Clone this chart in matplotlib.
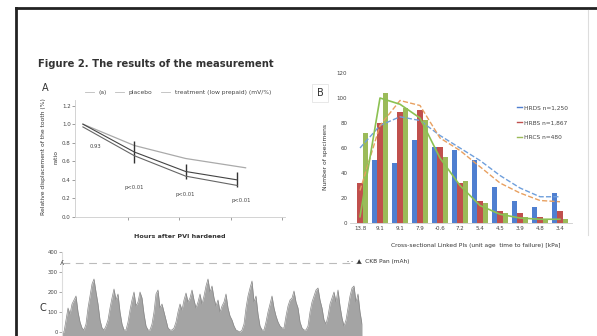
import numpy as np
import matplotlib
matplotlib.use('Agg')
import matplotlib.pyplot as plt
from matplotlib.lines import Line2D

# panel A - ratio vs hours
hours = [0, 24, 48, 72]
hours_top = [0, 24, 48, 76]
ratio_top = [1.0, 0.77, 0.63, 0.53]
ratio_mid = [1.0, 0.70, 0.49, 0.40]
ratio_low = [0.97, 0.66, 0.44, 0.34]
ratio_err = [0.0, 0.12, 0.08, 0.08]
p_labels = ['p<0.01', 'p<0.01', 'p<0.01']
p_hours = [24, 48, 74]
p_y = [0.32, 0.24, 0.18]
a_legend = ['(a)', 'placebo', 'treatment (low prepaid) (mV/%)']

# panel B - grouped bars
b_cats = ['13.8', '9.1', '9.1', '7.9', '-0.6', '7.2', '5.4', '4.5', '3.9', '4.8', '3.4']
hrds = [0, 50, 48, 66, 61, 58, 50, 29, 18, 13, 24]
hrbs = [32, 80, 89, 90, 61, 32, 18, 10, 8, 5, 10]
hrcs = [72, 104, 92, 82, 53, 34, 16, 8, 5, 3, 3]
trend_hrds = [60, 78, 85, 82, 70, 60, 50, 38, 28, 21, 21]
trend_hrbs = [26, 78, 98, 94, 68, 58, 45, 32, 24, 18, 17]
trend_hrcs = [5, 100, 95, 84, 52, 30, 14, 7, 4, 3, 3]
b_series = ['HRDS n=1,250', 'HRBS n=1,867', 'HRCS n=480']

# panel C - signal trace
signal = [0, 0, 60, 120, 90, 140, 160, 180, 100, 50,
          20, 10, 40, 120, 180, 240, 265, 200, 140, 60,
          20, 10, 30, 60, 120, 170, 215, 160, 190, 100,
          40, 10, 10, 50, 110, 160, 200, 130, 150, 200,
          170, 90, 30, 10, 10, 40, 100, 190, 210, 120,
          140, 100, 60, 20, 10, 10, 20, 50, 100, 140,
          110, 160, 195, 150, 170, 210, 160, 120, 150, 190,
          140, 180, 230, 265, 200, 230, 170, 130, 160, 100,
          130, 150, 190, 120, 80, 60, 30, 10, 5, 0,
          10, 40, 120, 180, 220, 255, 150, 180, 90, 30,
          10, 10, 50, 100, 140, 180, 120, 80, 50, 30,
          20, 20, 80, 130, 160, 170, 205, 150, 120, 50,
          20, 10, 10, 30, 100, 150, 180, 210, 220, 160,
          120, 60, 40, 80, 140, 170, 200, 150, 210, 130,
          70, 30, 60, 120, 180, 220, 230, 150, 190, 100, 40]

W, H = 597, 336


def px(x, y):
    return x / W, 1 - y / H


def box(l, t, r, b):
    return [l / W, 1 - b / H, (r - l) / W, (b - t) / H]


plt.rcParams['font.family'] = 'DejaVu Sans'
fig = plt.figure(figsize=(W / 100, H / 100), dpi=100)
fig.patch.set_facecolor('white')

# frame of the slide
fig.add_artist(Line2D([16 / W, 16 / W], [0, 1 - 8 / H], color='#222222', lw=2.0))
fig.add_artist(Line2D([16 / W, 1], [1 - 8 / H, 1 - 8 / H], color='#222222', lw=2.0))
fig.add_artist(Line2D([588 / W, 588 / W], [1 - 10 / H, 0.3], color='#dddddd', lw=0.8))

txt = '#444444'
fig.text(*px(38, 67), 'Figure 2. The results of the measurement', fontsize=7.2,
         color='#333333', va='baseline', fontweight='semibold')

# ---- panel A ----
axA = fig.add_axes(box(75, 100, 285, 217))
axA.plot(hours_top, ratio_top, color='#aaaaaa', lw=0.9)
axA.errorbar(hours, ratio_mid, yerr=ratio_err, color='#444444', lw=0.8,
             ecolor='#333333', elinewidth=1.0, capsize=0)
axA.plot(hours, ratio_low, color='#666666', lw=0.8)
for h, y, s in zip(p_hours, p_y, p_labels):
    axA.text(h, y, s, fontsize=3.8, color=txt, ha='center', va='center')
axA.text(3, 0.76, '0.93', fontsize=3.8, color=txt, va='center')
axA.set_xlim(-3.7, 94.4)
axA.set_ylim(0, 1.26)
axA.set_xticks([21, 45, 69, 93])
axA.set_xticklabels([])
axA.set_yticks(np.arange(0, 1.3, 0.2))
axA.set_yticklabels(['%.1f' % v for v in np.arange(0, 1.3, 0.2)])
axA.tick_params(labelsize=4, colors='#777777', length=2, width=0.5, labelcolor=txt, pad=1)
for s in ['top', 'right']:
    axA.spines[s].set_visible(False)
for s in ['left', 'bottom']:
    axA.spines[s].set_color('#cccccc')
    axA.spines[s].set_linewidth(0.6)
axA.legend([Line2D([], [], color='#bbbbbb', lw=0.6)] * 3, a_legend, ncol=3,
           loc='lower left', bbox_to_anchor=(0.02, 1.0), fontsize=4.3, frameon=False,
           handlelength=1.5, columnspacing=1.4, labelcolor=txt)
fig.text(*px(180, 237), 'Hours after PVI hardened', fontsize=4.6, color='#333333',
         ha='center', va='center', fontweight='semibold')
fig.text(*px(45, 88), 'A', fontsize=7, color='#333333', ha='center', va='center')
fig.text(*px(44, 157), 'Relative displacement of the tooth (%)', fontsize=4.3,
         color='#333333', rotation=90, ha='center', va='center')
fig.text(*px(56, 157), 'ratio', fontsize=4.3, color='#333333', rotation=90,
         ha='center', va='center')

# ---- panel B ----
axB = fig.add_axes(box(350, 73, 572, 223))
xb = np.arange(len(b_cats))
bw = 0.26
axB.bar(xb - bw, hrds, bw, color='#4F7FD0')
axB.bar(xb, hrbs, bw, color='#C0504D')
axB.bar(xb + bw, hrcs, bw, color='#9BBB59')
axB.plot(xb, trend_hrds, color='#6F9FDC', lw=1.0, ls='--')
axB.plot(xb, trend_hrbs, color='#E8A060', lw=1.0, ls='--')
axB.plot(xb, trend_hrcs, color='#8CC152', lw=1.2)
axB.set_xlim(-0.5, 10.6)
axB.set_ylim(0, 120)
axB.set_xticks(xb)
axB.set_xticklabels(b_cats)
axB.set_yticks(np.arange(0, 121, 20))
axB.tick_params(labelsize=4, colors='#777777', length=0, labelcolor=txt, pad=2)
for s in ['top', 'right', 'left']:
    axB.spines[s].set_visible(False)
axB.spines['bottom'].set_color('#cccccc')
axB.spines['bottom'].set_linewidth(0.6)
hl = [Line2D([], [], color=c, lw=1.0) for c in ['#4F7FD0', '#C0504D', '#9BBB59']]
axB.legend(hl, b_series, loc='upper left', bbox_to_anchor=(0.73, 0.82), fontsize=4.2,
           frameon=False, handlelength=0.8, handletextpad=0.3, labelspacing=1.7,
           labelcolor=txt)
fig.text(*px(476, 245), 'Cross-sectional Linked PIs (unit age  time to failure) [kPa]',
         fontsize=4.2, color='#333333', ha='center', va='center')
fig.text(*px(347, 262), '- -  \u25b2  CKB Pan (mAh)', fontsize=4.2, color='#333333',
         va='center')
fig.text(*px(320, 93), 'B', fontsize=7, color='#333333', ha='center', va='center',
         bbox=dict(facecolor='white', edgecolor='#e4e4e4', lw=0.6, pad=3))
fig.text(*px(326, 157), 'Number of specimens', fontsize=4.3, color='#333333',
         rotation=90, ha='center', va='center')

# ---- panel C ----
axC = fig.add_axes(box(62, 252, 362, 336))
xs = np.arange(len(signal))
axC.fill_between(xs, signal, -20, color='#a4a4a4', lw=0)
axC.plot(xs, signal, color='#888888', lw=0.5)
axC.axhline(345, color='#bbbbbb', lw=0.8, dashes=(7, 5))
axC.set_xlim(0, len(signal) - 1)
axC.set_ylim(-20, 400)
axC.set_xticks([])
axC.set_yticks([0, 100, 200, 300, 400])
axC.tick_params(labelsize=3.8, colors='#888888', length=2, width=0.5, labelcolor=txt, pad=1)
for s in ['top', 'right', 'bottom']:
    axC.spines[s].set_visible(False)
axC.spines['left'].set_color('#dddddd')
fig.text(*px(43, 308), 'C', fontsize=7, color='#333333', ha='center', va='center')
fig.text(*px(62, 263), '\u028e', fontsize=5, color='#444444', ha='center', va='center')

fig.savefig('out.png', dpi=100, facecolor='white')
